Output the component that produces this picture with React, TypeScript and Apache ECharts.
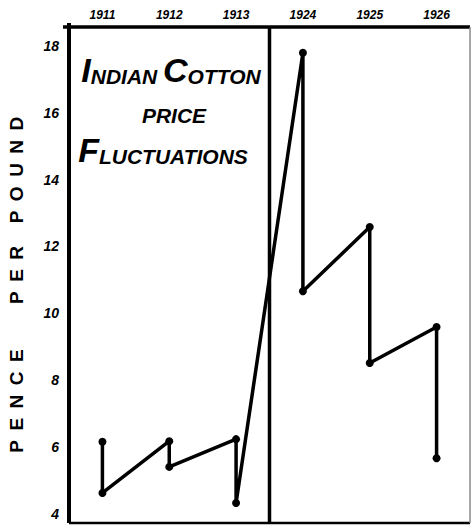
import React, { useEffect, useRef } from "react";
import * as echarts from "echarts";

const years = ["1911", "1912", "1913", "1924", "1925", "1926"];
const highs = [6.15, 6.17, 6.23, 17.8, 12.58, 9.59];
const lows = [4.62, 5.4, 4.32, 10.66, 8.51, 5.66];
const yTicks = [4, 6, 8, 10, 12, 14, 16, 18];
const axisWords = ["PENCE", "PER", "POUND"];

const FONT = "'Liberation Sans', Arial, sans-serif";
const W = 471;
const H = 526;
const G = { left: 69, right: 1, top: 27, bottom: 3 };

export default function App() {
  const ref = useRef<HTMLDivElement>(null);
  useEffect(() => {
    if (!ref.current) return;
    const chart = echarts.init(ref.current, null, { renderer: "svg" });
    const seriesData: [string, number][] = [];
    years.forEach((y, i) => {
      seriesData.push([y, highs[i]]);
      seriesData.push([y, lows[i]]);
    });
    const spaced = (w: string) => w.split("").join("\u2002");
    const wordCenters = [401, 275, 170];
    const labelFont = {
      fontFamily: FONT,
      fontWeight: "bold" as const,
      fontStyle: "italic" as const,
      color: "#000",
    };
    chart.setOption({
      animation: false,
      backgroundColor: "#fff",
      grid: { ...G, show: false },
      xAxis: {
        type: "category",
        data: years,
        position: "top",
        boundaryGap: true,
        axisLine: { show: false },
        axisTick: { show: false },
        axisLabel: { ...labelFont, fontSize: 12, margin: 6 },
        splitLine: { show: false },
      },
      yAxis: {
        type: "value",
        min: 3.72,
        max: 18.57,
        axisLine: { show: false },
        axisTick: { show: false },
        splitLine: { show: false },
        axisLabel: {
          ...labelFont,
          fontSize: 14,
          margin: 10,
          customValues: yTicks,
        },
      },
      series: [
        {
          type: "line",
          data: seriesData,
          symbol: "circle",
          symbolSize: 8,
          itemStyle: { color: "#000" },
          lineStyle: { color: "#000", width: 3.5 },
          z: 5,
        },
      ],
    });

    // separator between 1913 and 1924 from the category scale
    const xa = chart.convertToPixel({ xAxisIndex: 0 }, years[2]) as number;
    const xb = chart.convertToPixel({ xAxisIndex: 0 }, years[3]) as number;
    const sepX = (xa + xb) / 2;
    const x0 = G.left;
    const x1 = W - G.right;
    const y0 = G.top;
    const y1 = H - G.bottom;
    const blk = (w: number) => ({ stroke: "#000", lineWidth: w });

    chart.setOption({
      graphic: [
        { type: "line", id: "top", z: 10, shape: { x1: x0 - 6, y1: y0, x2: x1, y2: y0 }, style: blk(3.5) },
        { type: "line", id: "left", z: 10, shape: { x1: x0, y1: y0 - 4, x2: x0, y2: y1 }, style: blk(4) },
        { type: "line", id: "bottom", z: 10, shape: { x1: x0, y1: y1, x2: x1, y2: y1 }, style: blk(2.5) },
        { type: "line", id: "right", z: 10, shape: { x1: x1, y1: y0, x2: x1, y2: y1 }, style: { stroke: "#888", lineWidth: 1.5 } },
        { type: "line", id: "sep", z: 10, shape: { x1: sepX, y1: y0, x2: sepX, y2: y1 }, style: blk(3.5) },
        ...axisWords.map((w, i) => ({
          type: "text",
          id: "w" + i,
          x: 16,
          y: wordCenters[i],
          rotation: Math.PI / 2,
          style: {
            text: spaced(w),
            font: `bold 19px ${FONT}`,
            fill: "#000",
            align: "center",
            verticalAlign: "middle",
          },
        })),
        {
          type: "text",
          id: "t1",
          x: 171,
          y: 70,
          style: {
            text: "{b|I}{s|NDIAN }{b|C}{s|OTTON}",
            align: "center",
            verticalAlign: "middle",
            fill: "#000",
            rich: {
              b: { font: `italic bold 34px ${FONT}`, fill: "#000", lineHeight: 34, verticalAlign: "bottom" },
              s: { font: `italic bold 21px ${FONT}`, fill: "#000", lineHeight: 34, verticalAlign: "bottom" },
            },
          },
        },
        {
          type: "text",
          id: "t2",
          x: 174,
          y: 115,
          style: {
            text: "PRICE",
            font: `italic bold 21px ${FONT}`,
            fill: "#000",
            align: "center",
            verticalAlign: "middle",
          },
        },
        {
          type: "text",
          id: "t3",
          x: 163,
          y: 150,
          style: {
            text: "{b|F}{s|LUCTUATIONS}",
            align: "center",
            verticalAlign: "middle",
            fill: "#000",
            rich: {
              b: { font: `italic bold 34px ${FONT}`, fill: "#000", lineHeight: 34, verticalAlign: "bottom" },
              s: { font: `italic bold 21px ${FONT}`, fill: "#000", lineHeight: 34, verticalAlign: "bottom" },
            },
          },
        },
      ],
    });
    return () => chart.dispose();
  }, []);
  return (
    <div
      ref={ref}
      style={{ position: "absolute", left: 0, top: 0, width: W, height: H }}
    />
  );
}
